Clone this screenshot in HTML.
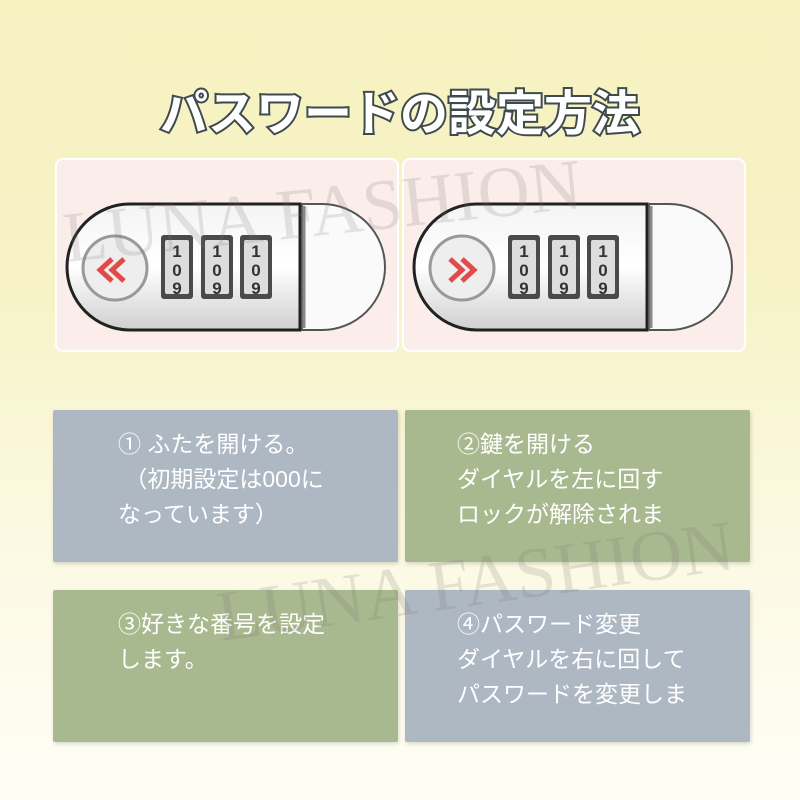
<!DOCTYPE html>
<html><head><meta charset="utf-8"><style>
body{margin:0;width:800px;height:800px;overflow:hidden;font-family:"Liberation Sans","Noto Sans CJK JP",sans-serif;background:linear-gradient(#f6f1bf 0px,#f7f3c8 300px,#fbf8df 500px,#fffef6 800px);position:relative}
.t{position:absolute;left:0;width:800px;top:74px;text-align:center;font-size:48px;font-weight:bold;color:#fff;-webkit-text-stroke:4px #3e4a4d;paint-order:stroke fill;letter-spacing:0px}
.p{position:absolute;top:158px;height:194px;background:#fbeeea;border:2px solid #fff;border-radius:8px;box-sizing:border-box}
.b{position:absolute;width:345px;height:152px;box-shadow:1px 2px 4px rgba(0,0,0,.15);border-radius:2px;color:#fff;font-size:23px;line-height:35px;box-sizing:border-box;padding-top:17px}
.bl{background:#aeb8c3}.gr{background:#a9b98f}
.wm{position:absolute;font-family:"Liberation Serif",serif;font-size:72px;color:rgba(120,110,110,.18);white-space:nowrap}
</style></head><body>
<div class="t">パスワードの設定方法</div>
<div class="p" style="left:55px;width:344px"></div>
<div class="p" style="left:402px;width:344px"></div>
<svg style="position:absolute;left:0;top:0" width="800" height="400">
<defs><linearGradient id="m" x1="0" y1="0" x2="0" y2="1"><stop offset="0" stop-color="#f4f4f4"/><stop offset=".5" stop-color="#fff"/><stop offset="1" stop-color="#cfcfcf"/></linearGradient></defs>
<g id="L">
<path d="M130 204 H300 V330 H130 A63 63 0 0 1 130 204Z" fill="url(#m)" stroke="#222" stroke-width="3"/>
<path d="M302 204 H322 A63 63 0 0 1 322 330 H302Z" fill="#fafafa" stroke="#555" stroke-width="2"/>
<line x1="304" y1="206" x2="304" y2="328" stroke="#888" stroke-width="3"/>
<circle cx="115" cy="268" r="32" fill="#eee" stroke="#999" stroke-width="3"/>
<g fill="#4a4a4a"><rect x="161" y="235" width="32" height="64" rx="3"/><rect x="201" y="235" width="32" height="64" rx="3"/><rect x="240" y="235" width="32" height="64" rx="3"/></g>
<g fill="#ddd"><rect x="165" y="240" width="24" height="54" rx="2"/><rect x="205" y="240" width="24" height="54" rx="2"/><rect x="244" y="240" width="24" height="54" rx="2"/></g>
<g font-family="Liberation Sans" font-size="17" font-weight="bold" fill="#333" text-anchor="middle"><text x="177" y="257">1</text><text x="217" y="257">1</text><text x="256" y="257">1</text><text x="177" y="276">0</text><text x="217" y="276">0</text><text x="256" y="276">0</text><text x="177" y="294">9</text><text x="217" y="294">9</text><text x="256" y="294">9</text></g>
</g>
<path d="M112 259 L100 270 L112 281 M124 259 L112 270 L124 281" stroke="#e24a4a" stroke-width="5" fill="none"/>
<use href="#L" transform="translate(347,0)"/>
<path d="M450 259 L462 270 L450 281 M462 259 L474 270 L462 281" stroke="#e24a4a" stroke-width="5" fill="none"/>
</svg>
<div class="wm" style="left:62px;top:170px;transform:rotate(-6deg)">LUNA FASHION</div>
<div class="b bl" style="left:53px;top:410px;padding-left:65px">① ふたを開ける。<br>&nbsp;（初期設定は000に<br>なっています）</div>
<div class="b gr" style="left:405px;top:410px;padding-left:52px">②鍵を開ける<br>ダイヤルを左に回す<br>ロックが解除されま</div>
<div class="b gr" style="left:53px;top:590px;padding-left:65px">③好きな番号を設定<br>します。</div>
<div class="b bl" style="left:405px;top:590px;padding-left:52px">④パスワード変更<br>ダイヤルを右に回して<br>パスワードを変更しま</div>
<div class="wm" style="left:215px;top:540px;transform:rotate(-8deg)">LUNA FASHION</div>
</body></html>
